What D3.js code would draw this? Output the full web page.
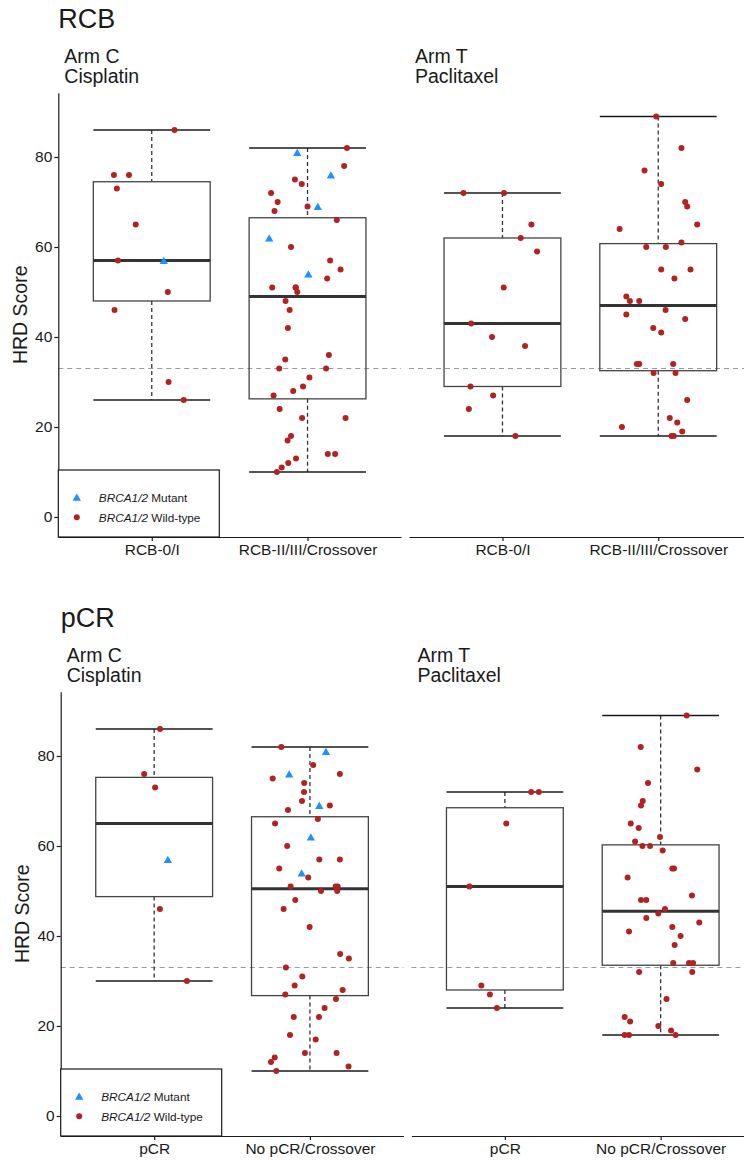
<!DOCTYPE html>
<html>
<head>
<meta charset="utf-8">
<script src="https://cdn.jsdelivr.net/npm/d3@7"></script>
<style>
  body { margin: 0; background: #fff; }
  svg text { font-family: Arial, "Liberation Sans", sans-serif; fill: #1a1a1a; }
</style>
</head>
<body>
<svg id="chart" width="744" height="1161"></svg>
<script>
// Labels
const ARM_LABELS = [["Arm C", "Cisplatin"], ["Arm T", "Paclitaxel"]];
const RCB_GROUPS = ["RCB-0/I", "RCB-II/III/Crossover"];
const PCR_GROUPS = ["pCR", "No pCR/Crossover"];
const Y_TICKS = [0, 20, 40, 60, 80];
const HRD_CUTOFF = 33;

// Points: [HRD score, horizontal jitter in category steps]
const RCB_C_LOW_WT = [[86, 0.146], [76, -0.243], [76, -0.146], [73, -0.224], [65, -0.103], [57, -0.217],
  [50, 0.103], [46, -0.239], [30, 0.108], [26, 0.205]];
const RCB_C_LOW_MUT = [[57, 0.077]];
const RCB_C_HIGH_WT = [[82, 0.253], [78, 0.235], [75, -0.081], [74, -0.037], [72, -0.234], [70, -0.192],
  [69, 0.0], [68, -0.212], [66, 0.188], [60, -0.106], [57, 0.145], [55, 0.212], [53, 0.126], [51, -0.227],
  [51, -0.076], [51, -0.076], [50, -0.066], [48, -0.141], [46, -0.115], [42, -0.126], [36, 0.137],
  [35, -0.143], [33, -0.182], [33, 0.119], [31, 0.012], [29, -0.029], [28, -0.092], [27, -0.218],
  [24, -0.179], [22, -0.035], [22, 0.244], [18, -0.106], [17, -0.128], [14, 0.130], [14, 0.177],
  [13, -0.074], [12, -0.124], [11, -0.166], [10, -0.197]];
const RCB_C_HIGH_MUT = [[81, -0.066], [76, 0.150], [69, 0.066], [62, -0.246], [54, 0.005]];

const RCB_T_LOW_WT = [[72, -0.250], [72, 0.010], [65, 0.186], [62, 0.117], [59, 0.222], [51, 0.008],
  [43, -0.201], [40, -0.067], [38, 0.145], [29, -0.205], [27, -0.060], [24, -0.216], [18, 0.083]];
const RCB_T_HIGH_WT = [[89, -0.013], [82, 0.149], [77, -0.088], [74, 0.019], [70, 0.173], [69, 0.186],
  [65, 0.250], [64, -0.248], [61, 0.149], [60, -0.077], [60, 0.049], [55, 0.019], [55, 0.207], [53, 0.104],
  [49, -0.205], [48, -0.182], [48, -0.122], [46, 0.047], [45, -0.205], [44, 0.173], [42, -0.032],
  [41, 0.019], [34, -0.137], [34, -0.122], [34, 0.096], [32, -0.030], [32, 0.111], [26, 0.186],
  [22, 0.074], [21, 0.122], [20, -0.233], [19, 0.154], [18, 0.085], [18, 0.100]];

const PCR_C_YES_WT = [[86, 0.038], [76, -0.064], [73, 0.006], [46, 0.037], [30, 0.210]];
const PCR_C_YES_MUT = [[57, 0.088]];
const PCR_C_NO_WT = [[82, -0.184], [78, 0.021], [76, 0.192], [75, -0.239], [74, -0.037], [72, -0.038],
  [70, -0.051], [69, 0.128], [68, -0.141], [66, 0.051], [65, -0.224], [60, -0.146], [57, 0.060], [57, 0.192],
  [55, -0.197], [53, -0.011], [51, -0.124], [51, 0.165], [51, 0.178], [50, 0.071], [50, 0.175], [48, -0.094],
  [46, -0.169], [42, -0.002], [36, 0.194], [35, 0.250], [33, -0.154], [31, -0.049], [29, -0.098],
  [28, 0.210], [27, -0.158], [26, 0.167], [24, 0.094], [22, -0.104], [22, 0.058], [18, -0.128], [17, 0.037],
  [14, -0.032], [14, 0.171], [13, -0.226], [12, -0.250], [11, 0.248], [10, -0.216]];
const PCR_C_NO_MUT = [[81, 0.103], [76, -0.133], [69, 0.060], [62, 0.006], [54, -0.053]];

const PCR_T_YES_WT = [[72, 0.169], [72, 0.218], [65, 0.009], [51, -0.228], [29, -0.151], [27, -0.096],
  [24, -0.051]];
const PCR_T_NO_WT = [[89, 0.167], [82, -0.128], [77, 0.235], [74, -0.081], [70, -0.115], [69, -0.126],
  [65, -0.192], [64, -0.141], [62, -0.004], [61, -0.164], [60, -0.117], [60, -0.068], [59, 0.013],
  [55, 0.075], [55, 0.086], [53, -0.212], [49, 0.201], [48, -0.126], [48, -0.092], [46, 0.028], [45, -0.015],
  [44, -0.092], [43, 0.248], [42, 0.075], [41, -0.203], [40, 0.128], [38, 0.090], [34, 0.081], [34, 0.182],
  [34, 0.208], [32, -0.138], [32, 0.203], [26, 0.038], [22, -0.231], [21, -0.196], [20, -0.015],
  [19, 0.067], [18, -0.231], [18, -0.203], [18, 0.096]];

const RED = "#b22222";
const BLUE = "#1e90ff";

const CHARTS = [
  {
    title: "RCB", groups: RCB_GROUPS, dx: 0, dy: 0,
    panels: [
      [{ wt: RCB_C_LOW_WT, mut: RCB_C_LOW_MUT }, { wt: RCB_C_HIGH_WT, mut: RCB_C_HIGH_MUT }],
      [{ wt: RCB_T_LOW_WT, mut: [] }, { wt: RCB_T_HIGH_WT, mut: [] }],
    ],
  },
  {
    title: "pCR", groups: PCR_GROUPS, dx: 2.4, dy: 599,
    panels: [
      [{ wt: PCR_C_YES_WT, mut: PCR_C_YES_MUT }, { wt: PCR_C_NO_WT, mut: PCR_C_NO_MUT }],
      [{ wt: PCR_T_YES_WT, mut: [] }, { wt: PCR_T_NO_WT, mut: [] }],
    ],
  },
];

// Layout
const PANEL_LEFT = 58.3;
const PANEL_W = 342.7;
const PANEL_GAP = 8;
const PLOT_TOP = 92.65;
const PLOT_BOTTOM = 537;

const svg = d3.select("#chart");
const triangle = d3.symbol().type(d3.symbolTriangle).size(30);

function boxStats(values) {
  const s = values.slice().sort(d3.ascending);
  const q1 = d3.quantile(s, 0.25);
  const med = d3.quantile(s, 0.5);
  const q3 = d3.quantile(s, 0.75);
  const iqr = q3 - q1;
  const lo = d3.min(s.filter((v) => v >= q1 - 1.5 * iqr));
  const hi = d3.max(s.filter((v) => v <= q3 + 1.5 * iqr));
  return { q1, med, q3, lo, hi };
}

function drawLegend(g) {
  const lx = PANEL_LEFT, ly = 470;
  const lg = g.append("g");
  lg.append("rect")
    .attr("x", lx).attr("y", ly).attr("width", 161).attr("height", PLOT_BOTTOM - ly)
    .attr("fill", "#fff").attr("stroke", "#1a1a1a").attr("stroke-width", 1.2);
  const items = [
    { label: " Mutant", mutant: true },
    { label: " Wild-type", mutant: false },
  ];
  items.forEach((it, i) => {
    const cy = ly + 27.3 + i * 20;
    if (it.mutant) {
      lg.append("path").attr("d", triangle).attr("fill", BLUE)
        .attr("transform", `translate(${lx + 18.5},${cy + 1})`);
    } else {
      lg.append("circle").attr("cx", lx + 18.5).attr("cy", cy).attr("r", 3).attr("fill", RED);
    }
    const t = lg.append("text").attr("x", lx + 40.5).attr("y", cy + 4.2).attr("font-size", 11.8);
    t.append("tspan").attr("font-style", "italic").text("BRCA1/2");
    t.append("tspan").text(it.label);
  });
}

function drawChart(chart) {
  const g = svg.append("g").attr("transform", `translate(${chart.dx},${chart.dy})`);
  const y = d3.scaleLinear().domain([-4.45, 94.3]).range([PLOT_BOTTOM, PLOT_TOP]);

  g.append("text").attr("x", PANEL_LEFT).attr("y", 28.3).attr("font-size", 27).text(chart.title);

  g.append("text")
    .attr("transform", `translate(27,${(PLOT_TOP + PLOT_BOTTOM) / 2}) rotate(-90)`)
    .attr("text-anchor", "middle").attr("font-size", 19.5)
    .text("HRD Score");

  chart.panels.forEach((panel, pi) => {
    const x0 = PANEL_LEFT + pi * (PANEL_W + PANEL_GAP);
    const x = d3.scalePoint().domain(chart.groups).range([x0, x0 + PANEL_W]).padding(0.6);
    const bw = x.step() * 0.75;
    const pg = g.append("g");

    ARM_LABELS[pi].forEach((line, li) => {
      pg.append("text").attr("x", x0 + 6).attr("y", 63.3 + li * 20).attr("font-size", 19.5).text(line);
    });

    // HRD threshold
    pg.append("line")
      .attr("x1", x0).attr("x2", x0 + PANEL_W)
      .attr("y1", y(HRD_CUTOFF)).attr("y2", y(HRD_CUTOFF))
      .attr("stroke", "#9a9a9a").attr("stroke-width", 1.2).attr("stroke-dasharray", "5,4");

    chart.groups.forEach((grp, gi) => {
      const d = panel[gi];
      const st = boxStats(d.wt.concat(d.mut).map((p) => p[0]));
      const cx = x(grp);

      // dashed whiskers
      pg.append("line").attr("x1", cx).attr("x2", cx).attr("y1", y(st.hi)).attr("y2", y(st.q3))
        .attr("stroke", "#333").attr("stroke-width", 1.3).attr("stroke-dasharray", "4,3");
      pg.append("line").attr("x1", cx).attr("x2", cx).attr("y1", y(st.q1)).attr("y2", y(st.lo))
        .attr("stroke", "#333").attr("stroke-width", 1.3).attr("stroke-dasharray", "4,3");

      // whisker caps
      [st.lo, st.hi].forEach((v) => {
        pg.append("line").attr("x1", cx - bw / 2).attr("x2", cx + bw / 2)
          .attr("y1", y(v)).attr("y2", y(v))
          .attr("stroke", "#1a1a1a").attr("stroke-width", 1.4);
      });

      // box
      pg.append("rect")
        .attr("x", cx - bw / 2).attr("width", bw)
        .attr("y", y(st.q3)).attr("height", y(st.q1) - y(st.q3))
        .attr("fill", "none").attr("stroke", "#444").attr("stroke-width", 1.3);
      pg.append("line").attr("x1", cx - bw / 2).attr("x2", cx + bw / 2)
        .attr("y1", y(st.med)).attr("y2", y(st.med))
        .attr("stroke", "#333").attr("stroke-width", 2.8);

      // points
      pg.selectAll(null).data(d.wt).join("circle")
        .attr("cx", (p) => cx + p[1] * x.step())
        .attr("cy", (p) => y(p[0]))
        .attr("r", 3).attr("fill", RED);
      pg.selectAll(null).data(d.mut).join("path")
        .attr("d", triangle)
        .attr("transform", (p) => `translate(${cx + p[1] * x.step()},${y(p[0]) + 1})`)
        .attr("fill", BLUE);
    });

    // axes
    const xAxis = pg.append("g").attr("transform", `translate(0,${PLOT_BOTTOM})`)
      .call(d3.axisBottom(x).tickSize(4).tickSizeOuter(0).tickPadding(3));
    xAxis.selectAll("text").attr("font-size", 15.5).attr("font-family", null).style("fill", "#1a1a1a");
    xAxis.selectAll("line, path").attr("stroke", "#1a1a1a").attr("stroke-width", 1.2);

    if (pi === 0) {
      const yAxis = pg.append("g").attr("transform", `translate(${x0},0)`)
        .call(d3.axisLeft(y).tickValues(Y_TICKS).tickSize(4).tickSizeOuter(0).tickPadding(2));
      yAxis.selectAll("text").attr("font-size", 15.5).attr("font-family", null).style("fill", "#1a1a1a");
      yAxis.selectAll("line, path").attr("stroke", "#1a1a1a").attr("stroke-width", 1.2);
      drawLegend(pg);
    }
  });
}

CHARTS.forEach(drawChart);
</script>
</body>
</html>
